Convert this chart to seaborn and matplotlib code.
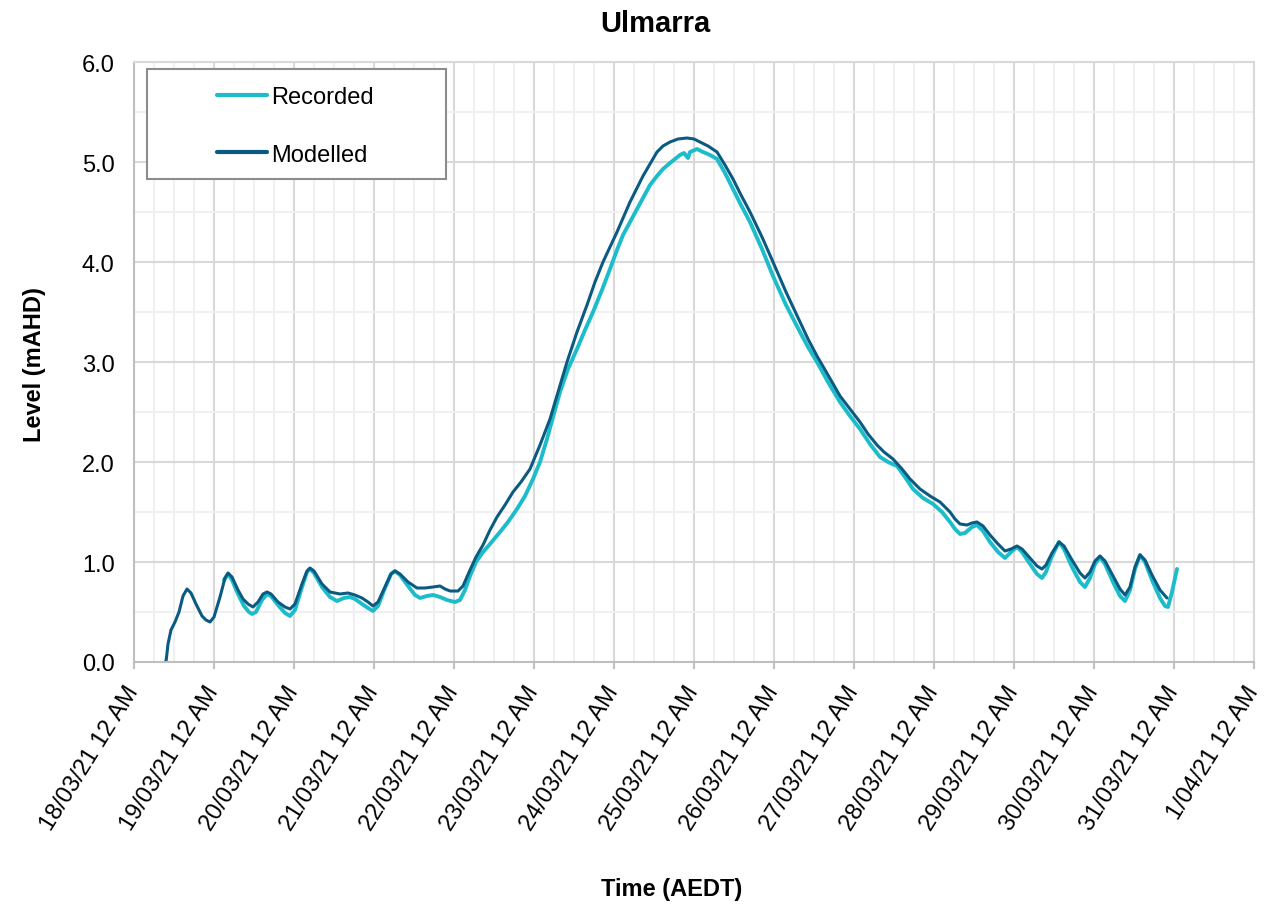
import pandas as pd
import numpy as np
import seaborn as sns
import matplotlib
matplotlib.use("Agg")
import matplotlib.pyplot as plt
import matplotlib.dates as mdates
from matplotlib.patches import Rectangle

# time in hours after 18/03/21 12 AM, level in mAHD
modelled_hours = [9.3, 9.6, 10.2, 11.1, 12.3, 13.5, 14.7, 15.9, 17.1, 18.6, 20.4,
                  21.6, 22.8, 24.0, 25.8, 27.3, 28.2, 29.4, 31.2, 32.7, 34.2,
                  35.7, 37.2, 38.7, 39.9, 41.1, 43.2, 45.3, 46.8, 48.3, 50.4,
                  51.9, 52.8, 54.0, 56.4, 58.8, 61.8, 64.2, 66.3, 68.4, 70.2,
                  71.7, 73.2, 75.3, 77.1, 78.3, 79.8, 82.2, 84.9, 87.3, 89.7,
                  91.8, 93.3, 94.8, 97.2, 98.7, 100.8, 102.6, 104.7, 106.8, 108.9,
                  111.3, 113.7, 116.1, 118.8, 121.8, 124.8, 127.2, 129.9, 132.9, 135.9,
                  138.3, 140.7, 142.8, 144.9, 148.8, 152.7, 154.8, 156.9, 158.7, 160.8,
                  163.2, 165.9, 168.0, 169.8, 172.2, 174.9, 177.3, 179.7, 182.1, 184.8,
                  188.4, 191.7, 195.6, 199.8, 202.2, 204.9, 208.2, 211.8, 214.8, 217.8,
                  220.2, 222.9, 225.0, 227.7, 230.4, 232.8, 235.8, 238.8, 241.8, 244.8,
                  246.3, 247.8, 249.9, 251.4, 252.9, 254.7, 256.8, 259.2, 261.3, 263.1,
                  264.9, 266.4, 268.8, 270.9, 272.4, 273.6, 275.4, 277.5, 279.0, 281.4,
                  283.8, 285.3, 286.8, 288.3, 289.8, 291.3, 293.7, 295.8, 297.3, 298.8,
                  300.3, 301.8, 303.3, 305.4, 307.8, 309.9]
modelled_level = [0.00, 0.00, 0.18, 0.32, 0.40, 0.50, 0.66, 0.73, 0.69, 0.58, 0.46,
                  0.42, 0.40, 0.45, 0.65, 0.84, 0.89, 0.85, 0.72, 0.63, 0.58,
                  0.55, 0.60, 0.68, 0.70, 0.68, 0.60, 0.55, 0.53, 0.58, 0.78,
                  0.91, 0.94, 0.91, 0.78, 0.70, 0.68, 0.69, 0.67, 0.64, 0.60,
                  0.56, 0.60, 0.75, 0.88, 0.91, 0.88, 0.80, 0.74, 0.74, 0.75,
                  0.76, 0.73, 0.71, 0.71, 0.76, 0.92, 1.05, 1.17, 1.32, 1.45,
                  1.57, 1.70, 1.80, 1.93, 2.17, 2.43, 2.70, 3.00, 3.30, 3.57,
                  3.80, 4.00, 4.15, 4.30, 4.60, 4.86, 4.98, 5.10, 5.16, 5.20,
                  5.23, 5.24, 5.23, 5.20, 5.16, 5.10, 4.97, 4.83, 4.67, 4.50,
                  4.25, 4.00, 3.70, 3.40, 3.23, 3.06, 2.87, 2.66, 2.53, 2.40,
                  2.28, 2.17, 2.10, 2.03, 1.93, 1.83, 1.73, 1.66, 1.60, 1.50,
                  1.43, 1.38, 1.37, 1.39, 1.40, 1.36, 1.27, 1.18, 1.11, 1.13,
                  1.16, 1.13, 1.04, 0.96, 0.93, 0.97, 1.09, 1.20, 1.16, 1.02,
                  0.89, 0.84, 0.90, 1.01, 1.06, 1.01, 0.86, 0.73, 0.67, 0.75,
                  0.95, 1.07, 1.02, 0.87, 0.72, 0.64]

recorded_hours = [27.0, 28.2, 29.4, 31.2, 33.0, 34.5, 35.4, 36.6, 38.4, 39.9,
                  41.1, 43.2, 45.3, 46.8, 48.3, 50.4, 51.9, 52.8, 54.0, 56.4,
                  58.8, 60.9, 63.0, 64.8, 66.3, 68.4, 70.2, 71.7, 73.2, 75.3,
                  77.1, 78.3, 79.8, 82.2, 84.3, 85.8, 87.9, 89.7, 91.8, 93.9,
                  96.3, 97.8, 99.3, 100.8, 102.6, 104.7, 106.8, 109.8, 112.2, 114.9,
                  117.3, 119.7, 121.8, 123.9, 125.7, 127.8, 130.2, 132.9, 135.3, 137.7,
                  140.4, 142.8, 144.9, 146.7, 148.8, 150.9, 152.7, 154.8, 156.9, 158.7,
                  160.8, 162.3, 163.8, 165.0, 166.2, 166.8, 168.9, 170.7, 172.8, 174.9,
                  177.3, 179.7, 182.1, 184.8, 188.4, 191.7, 195.6, 199.8, 202.2, 204.9,
                  208.2, 211.8, 214.8, 217.8, 220.8, 223.8, 226.2, 228.9, 231.3, 233.7,
                  236.7, 239.7, 242.4, 244.8, 246.3, 247.8, 249.3, 251.4, 252.9, 254.7,
                  256.8, 259.2, 261.3, 263.1, 264.9, 266.4, 268.8, 270.9, 272.4, 273.6,
                  275.4, 277.5, 279.0, 281.4, 283.8, 285.3, 286.8, 288.3, 289.8, 291.3,
                  293.7, 295.8, 297.3, 298.8, 300.3, 301.8, 303.3, 305.4, 307.8, 309.3,
                  310.2, 311.4, 312.9]
recorded_level = [0.82, 0.88, 0.82, 0.68, 0.56, 0.50, 0.48, 0.50, 0.62, 0.68,
                  0.66, 0.57, 0.49, 0.46, 0.52, 0.75, 0.90, 0.93, 0.89, 0.75,
                  0.65, 0.61, 0.64, 0.65, 0.63, 0.58, 0.54, 0.51, 0.56, 0.74,
                  0.88, 0.91, 0.87, 0.76, 0.67, 0.64, 0.66, 0.67, 0.65, 0.62,
                  0.60, 0.62, 0.72, 0.86, 1.00, 1.10, 1.18, 1.30, 1.40, 1.53,
                  1.66, 1.83, 2.00, 2.23, 2.45, 2.70, 2.93, 3.13, 3.32, 3.50,
                  3.72, 3.93, 4.12, 4.27, 4.40, 4.53, 4.64, 4.77, 4.86, 4.93,
                  4.99, 5.03, 5.07, 5.09, 5.04, 5.10, 5.13, 5.10, 5.07, 5.03,
                  4.89, 4.73, 4.57, 4.40, 4.13, 3.86, 3.57, 3.30, 3.15, 3.00,
                  2.80, 2.60, 2.46, 2.33, 2.18, 2.05, 2.00, 1.96, 1.85, 1.73,
                  1.64, 1.58, 1.50, 1.40, 1.33, 1.28, 1.29, 1.35, 1.37, 1.31,
                  1.20, 1.10, 1.04, 1.10, 1.15, 1.10, 0.98, 0.88, 0.84, 0.90,
                  1.06, 1.20, 1.13, 0.95, 0.80, 0.75, 0.84, 0.98, 1.05, 0.98,
                  0.80, 0.66, 0.61, 0.72, 0.93, 1.07, 1.00, 0.82, 0.64, 0.56,
                  0.55, 0.70, 0.93]

series_names = ["Recorded", "Modelled"]
series_colors = ["#1cbccb", "#0b5a82"]

start = pd.Timestamp("2021-03-18")
df = pd.concat([
    pd.DataFrame({"time": start + pd.to_timedelta(recorded_hours, unit="h"),
                  "level": recorded_level, "series": "Recorded"}),
    pd.DataFrame({"time": start + pd.to_timedelta(modelled_hours, unit="h"),
                  "level": modelled_level, "series": "Modelled"}),
], ignore_index=True)

sns.set_theme(style="white")
plt.rcParams["font.family"] = ["Liberation Sans", "DejaVu Sans"]

fig = plt.figure(figsize=(12.74, 9.12), dpi=100)
ax = fig.add_axes([134 / 1274, 1 - 663 / 912, 1120 / 1274, 600 / 912])

sns.lineplot(data=df, x="time", y="level", hue="series", hue_order=series_names,
             palette=series_colors, estimator=None, sort=False, ax=ax, legend=False)
for line, lw in zip(ax.get_lines(), [2.8, 2.2]):
    line.set_linewidth(lw)
    line.set_solid_joinstyle("round")

ax.set_xlim(start, pd.Timestamp("2021-04-01"))
ax.set_ylim(0, 6)
ax.xaxis.set_major_locator(mdates.DayLocator())
ax.xaxis.set_minor_locator(mdates.HourLocator(byhour=[6, 12, 18]))
ax.xaxis.set_major_formatter(plt.FuncFormatter(
    lambda v, pos: f"{mdates.num2date(v).day}/{mdates.num2date(v):%m/%y} 12 AM"))
ax.set_yticks(np.arange(0, 6.01, 1.0))
ax.set_yticks(np.arange(0.5, 6, 1.0), minor=True)
ax.yaxis.set_major_formatter(plt.FuncFormatter(lambda v, pos: f"{v:.1f}"))

ax.grid(which="major", color="#d9d9d9", linewidth=1.5)
ax.grid(which="minor", color="#f0f0f0", linewidth=1.5)
ax.set_axisbelow(True)
for side in ["left", "bottom"]:
    ax.spines[side].set_color("#bfbfbf")
    ax.spines[side].set_linewidth(1.5)
for side in ["top", "right"]:
    ax.spines[side].set_color("#d9d9d9")
    ax.spines[side].set_linewidth(1.5)

ax.tick_params(axis="x", which="major", length=5, width=1.5, color="#bfbfbf",
               labelsize=17, pad=13, bottom=True, labelcolor="black")
ax.tick_params(axis="x", which="minor", length=0)
ax.tick_params(axis="y", which="both", length=0, labelsize=17, pad=14, labelcolor="black")
for lab in ax.get_xticklabels():
    lab.set_rotation(58)
    lab.set_ha("right")
    lab.set_va("center")
    lab.set_rotation_mode("anchor")

ax.set_xlabel("")
ax.set_ylabel("")
fig.text(655 / 1274, 1 - 24 / 912, "Ulmarra", ha="center", va="center",
         fontsize=21, fontweight="bold", color="black")
fig.text(672 / 1274, 1 - 890 / 912, "Time (AEDT)", ha="center", va="center",
         fontsize=17, fontweight="bold", color="black")
fig.text(35 / 1274, 1 - 365 / 912, "Level (mAHD)", ha="center", va="center",
         rotation=90, fontsize=17, fontweight="bold", color="black")

# legend box drawn by hand to match the wide frame
ax.add_patch(Rectangle((147 / 1274, 1 - 180 / 912), 299 / 1274, 110 / 912,
                       transform=fig.transFigure, facecolor="white", edgecolor="#8c8c8c",
                       linewidth=1.5, zorder=4, clip_on=False))
handles = [plt.Line2D([], [], color=c, linewidth=3) for c in series_colors]
leg = ax.legend(handles, series_names, loc="center left", frameon=False,
                bbox_to_anchor=(217 / 1274, 1 - 127 / 912), bbox_transform=fig.transFigure,
                fontsize=17, handlelength=2.1, handletextpad=0.2, labelspacing=1.5,
                borderpad=0, borderaxespad=0)
for t in leg.get_texts():
    t.set_color("black")
leg.set_zorder(5)

fig.savefig("out.png", dpi=100)
